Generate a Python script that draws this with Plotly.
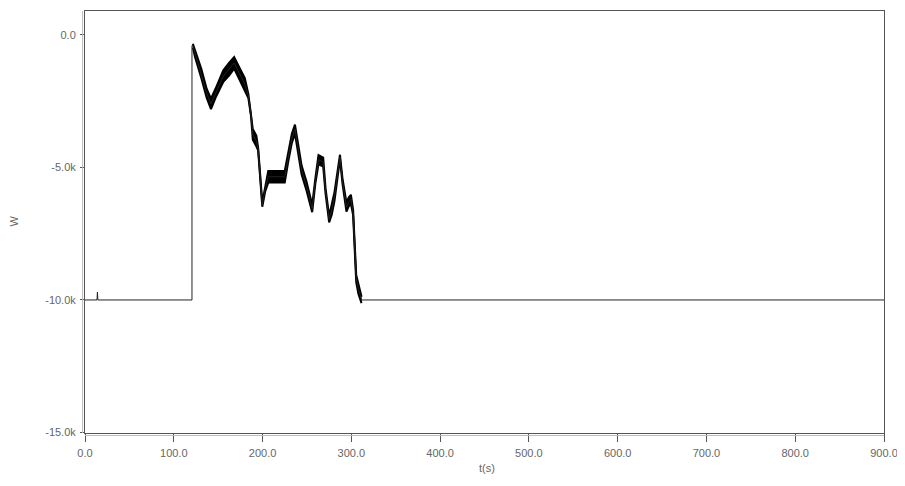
import plotly.graph_objects as go

# ---- data ----
# thin trace: time (s) and power (W)
t_line = [0, 13.5, 14, 14.5, 120.5, 120.5, 121.5, 124, 131, 137, 141.9, 147, 155.8, 162, 168, 174, 180,
          184, 187, 189, 193, 195, 199.7, 203, 206.4, 225, 229, 233, 236.5, 240, 244, 249.5,
          255.9, 259.5, 263, 268.3, 271, 275, 278, 281, 287.2, 290, 294.5, 297, 299.5, 302,
          305.5, 308, 311.5, 900]
w_line = [-10000, -10000, -9700, -10000, -10000, -400, -400, -700, -1450, -2200, -2600, -2200, -1550,
          -1300, -1050, -1450, -1850, -2300, -3000, -3750, -4000, -4300, -6400, -5800, -5350,
          -5350, -4600, -3900, -3550, -4300, -5100, -5700, -6550, -5500, -4700, -4800, -5900,
          -6950, -6600, -6100, -4600, -5500, -6500, -6300, -6200, -6700, -9200, -9600, -10000, -10000]

# oscillation envelope of the active segment
t_band = [121.5, 124, 131, 137, 141.9, 147, 155.8, 162, 168, 174, 180, 184, 187, 189, 193, 195,
          199.7, 203, 206.4, 225, 229, 233, 236.5, 240, 244, 249.5, 255.9, 259.5, 263, 268.3,
          271, 275, 278, 281, 287.2, 290, 294.5, 297, 299.5, 302, 305.5, 308, 311.5]
w_upper = [-330, -560, -1280, -2030, -2400, -2030, -1330, -1060, -830, -1230, -1630, -2220, -2950,
           -3550, -3800, -4250, -6320, -5700, -5130, -5130, -4430, -3730, -3380, -4130, -4930,
           -5530, -6410, -5400, -4530, -4630, -5800, -6830, -6430, -5930, -4520, -5400, -6330,
           -6130, -6030, -6600, -9060, -9430, -9880]
w_lower = [-470, -840, -1620, -2370, -2800, -2370, -1770, -1540, -1270, -1670, -2070, -2380, -3050,
           -3950, -4200, -4350, -6480, -5900, -5570, -5570, -4770, -4070, -3720, -4470, -5270,
           -5870, -6690, -5600, -4870, -4970, -6000, -7070, -6770, -6270, -4680, -5600, -6670,
           -6470, -6370, -6800, -9340, -9770, -10120]

x_ticks = [0, 100, 200, 300, 400, 500, 600, 700, 800, 900]
x_tick_labels = ["0.0", "100.0", "200.0", "300.0", "400.0", "500.0", "600.0", "700.0", "800.0", "900.0"]
y_ticks = [0, -5000, -10000, -15000]
y_tick_labels = ["0.0", "-5.0k", "-10.0k", "-15.0k"]

fig = go.Figure()
fig.add_trace(go.Scatter(x=t_band, y=w_lower, mode="lines", line=dict(color="#000", width=2),
                         showlegend=False, hoverinfo="skip"))
fig.add_trace(go.Scatter(x=t_band, y=w_upper, mode="lines", line=dict(color="#000", width=2),
                         fill="tonexty", fillcolor="#000", showlegend=False, hoverinfo="skip"))
fig.add_trace(go.Scatter(x=t_line, y=w_line, mode="lines", line=dict(color="#222", width=1),
                         showlegend=False))

font = dict(family="Liberation Sans, Arial, sans-serif", size=11, color="#666")
fig.update_layout(
    width=897, height=478,
    margin=dict(l=77, r=21, t=3, b=53),
    paper_bgcolor="white", plot_bgcolor="white",
    font=font,
    xaxis=dict(range=[0, 900], tickvals=x_ticks, ticktext=x_tick_labels, showgrid=False,
               zeroline=False, showline=True, linecolor="#555", linewidth=1, mirror=True,
               ticks="outside", ticklen=8, tickcolor="#555", automargin=False,
               ticklabelstandoff=2, tickfont=font),
    yaxis=dict(range=[-15020, 905], tickvals=y_ticks, ticktext=y_tick_labels, showgrid=False,
               zeroline=False, showline=True, linecolor="#555", linewidth=1, mirror=True,
               ticks="outside", ticklen=4, tickcolor="#555", automargin=False,
               ticklabelstandoff=2, tickfont=font),
    shapes=[
        dict(type="line", xref="paper", yref="paper", x0=0, x1=1, y0=-0.006, y1=-0.006,
             line=dict(color="#bbb", width=1)),
        dict(type="line", xref="paper", yref="paper", x0=-0.003, x1=-0.003, y0=0, y1=1,
             line=dict(color="#bbb", width=1)),
    ],
    annotations=[
        dict(text="t(s)", xref="paper", yref="paper", x=0.5032, y=-0.083, xanchor="center",
             yanchor="middle", showarrow=False, font=font),
        dict(text="W", xref="paper", yref="paper", x=-0.0885, y=0.502, xanchor="center",
             yanchor="middle", showarrow=False, textangle=-90, font=font),
    ],
)

fig.write_html("out.html")
